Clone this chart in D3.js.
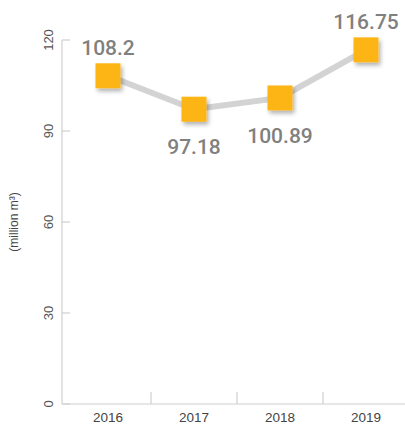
<!DOCTYPE html>
<meta charset="utf-8">
<style>
  body { margin: 0; background: #fff; }
  text { font-family: "Liberation Sans", Arial, sans-serif; }
  .axis line, .axis path { stroke: #cfcfcf; stroke-width: 1.2; }
  .vals text { font-family: Roboto, "Liberation Sans", sans-serif; font-weight: 500; }
</style>
<body>
<script src="https://cdn.jsdelivr.net/npm/d3@7"></script>
<script>

const years = ["2016", "2017", "2018", "2019"];
const volumes = [108.2, 97.18, 100.89, 116.75];
const labelSide = ["above", "below", "below", "above"];
const yTicks = [0, 30, 60, 90, 120];

const width = 405;
const height = 426;
const x0 = 62;

const svg = d3.select("body")
              .append("svg")
              .attr("width", width)
              .attr("height", height);

const xScale = d3.scaleBand()
                 .domain(years)
                 .range([65, 409]);

const yScale = d3.scaleLinear()
                 .domain([0, 120])
                 .range([404, 40]);

const defs = svg.append("defs");
const shadow = defs.append("filter")
                   .attr("id", "shadow")
                   .attr("x", "-30%").attr("y", "-30%")
                   .attr("width", "170%").attr("height", "170%");
shadow.append("feDropShadow")
      .attr("dx", 2)
      .attr("dy", 3)
      .attr("stdDeviation", 2)
      .attr("flood-color", "#000")
      .attr("flood-opacity", 0.3);

// y axis
const yAxis = svg.append("g").attr("class", "axis");
yAxis.append("line")
     .attr("x1", x0).attr("x2", x0)
     .attr("y1", yScale(120)).attr("y2", yScale(0));
yAxis.selectAll(".tick")
     .data(yTicks)
     .enter().append("line")
     .attr("class", "tick")
     .attr("x1", x0).attr("x2", x0 + 8)
     .attr("y1", d => yScale(d)).attr("y2", d => yScale(d));
yAxis.selectAll("text")
     .data(yTicks)
     .enter().append("text")
     .attr("transform", d => `translate(53,${yScale(d)}) rotate(-90)`)
     .attr("text-anchor", "middle")
     .attr("font-size", 13)
     .attr("fill", "#555")
     .text(d => d);

svg.append("text")
   .attr("transform", "translate(18,222) rotate(-90)")
   .attr("text-anchor", "middle")
   .attr("font-size", 12)
   .attr("fill", "#444")
   .text("(million m³)");

// x axis
const xAxis = svg.append("g").attr("class", "axis");
xAxis.append("line")
     .attr("x1", x0).attr("x2", width)
     .attr("y1", yScale(0)).attr("y2", yScale(0));
xAxis.selectAll(".sep")
     .data(years.slice(1))
     .enter().append("line")
     .attr("class", "sep")
     .attr("x1", d => xScale(d)).attr("x2", d => xScale(d))
     .attr("y1", yScale(0) - 12).attr("y2", yScale(0));
xAxis.selectAll("text")
     .data(years)
     .enter().append("text")
     .attr("x", d => xScale(d) + xScale.bandwidth() / 2)
     .attr("y", 422)
     .attr("text-anchor", "middle")
     .attr("font-size", 13.5)
     .attr("fill", "#444")
     .text(d => d);

const points = years.map((y, i) => ({year: y, value: volumes[i], side: labelSide[i]}));
const cx = d => xScale(d.year) + xScale.bandwidth() / 2;
const cy = d => yScale(d.value);

const line = d3.line().x(cx).y(cy);
svg.append("path")
   .attr("d", line(points))
   .attr("fill", "none")
   .attr("stroke", "#d3d3d3")
   .attr("stroke-width", 6);

const size = 25;
svg.append("g")
   .selectAll("rect")
   .data(points)
   .enter().append("rect")
   .attr("x", d => cx(d) - size / 2)
   .attr("y", d => cy(d) - size / 2)
   .attr("width", size)
   .attr("height", size)
   .attr("fill", "#fdb515")
   .attr("filter", "url(#shadow)");

svg.append("g")
   .attr("class", "vals")
   .selectAll("text")
   .data(points)
   .enter().append("text")
   .attr("x", cx)
   .attr("y", d => cy(d) + (d.side == "above" ? -21 : 45))
   .attr("text-anchor", "middle")
   .attr("font-size", 21)
   .attr("fill", "#808080")
   .text(d => d.value);
</script>
</body>
